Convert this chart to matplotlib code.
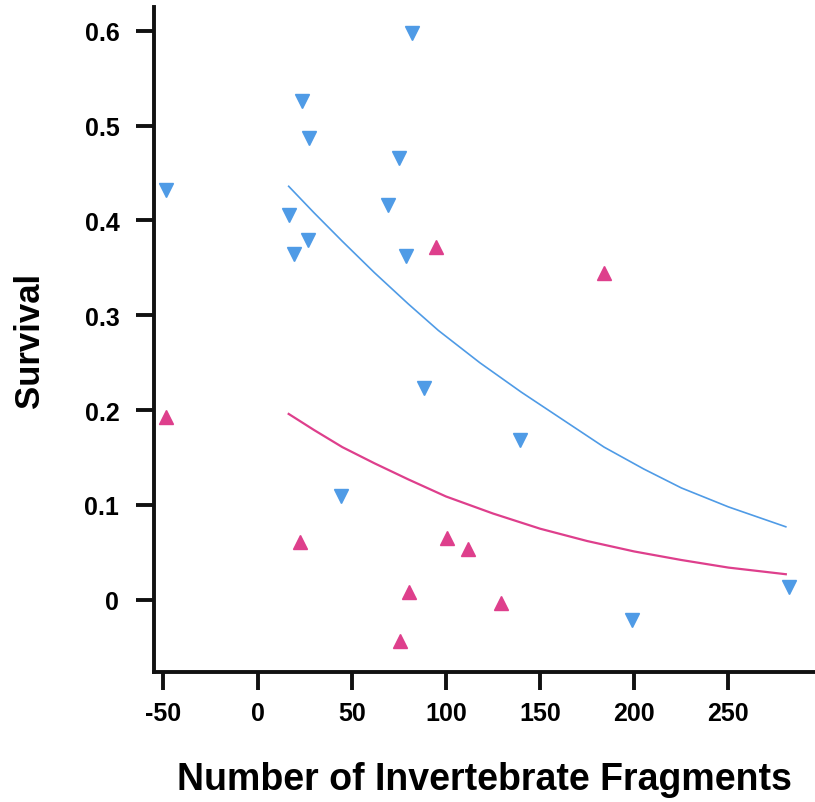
import matplotlib.pyplot as plt

plt.rcParams['font.family'] = ['Liberation Sans', 'DejaVu Sans']
plt.rcParams['axes.unicode_minus'] = False

# blue down-triangles (x = invertebrate fragments, y = survival)
blue_x = [-48.8, 82.2, 23.8, 27.2, 75, 69, 16.5, 26.6, 19.2, 78.7, 88.6, 139.6, 44.2, 199, 282]
blue_y = [0.432, 0.598, 0.526, 0.487, 0.466, 0.416, 0.406, 0.379, 0.365, 0.363, 0.223, 0.168, 0.109, -0.021, 0.014]

# pink up-triangles
pink_x = [-48.6, 95, 183.8, 22.3, 100.4, 111.5, 80.3, 129.4, 75.5]
pink_y = [0.193, 0.372, 0.345, 0.061, 0.065, 0.054, 0.008, -0.003, -0.043]

# fitted curves
blue_fit_x = [16.5, 30, 45, 62, 80, 96, 118, 140, 162, 184, 205, 225, 250, 280.5]
blue_fit_y = [0.436, 0.408, 0.378, 0.345, 0.312, 0.284, 0.250, 0.219, 0.190, 0.161, 0.138, 0.118, 0.098, 0.077]
pink_fit_x = [16.5, 30, 45, 62, 80, 100, 125, 150, 175, 200, 225, 250, 280.5]
pink_fit_y = [0.196, 0.179, 0.161, 0.144, 0.127, 0.109, 0.091, 0.075, 0.062, 0.051, 0.042, 0.034, 0.027]

x_ticks = [-50, 0, 50, 100, 150, 200, 250]
y_ticks = [0, 0.1, 0.2, 0.3, 0.4, 0.5, 0.6]
y_tick_labels = ['0', '0.1', '0.2', '0.3', '0.4', '0.5', '0.6']

blue = '#4f9be6'
pink = '#de3f8c'

fig = plt.figure(figsize=(8.15, 8.03), dpi=100)
ax = fig.add_axes([0.189, 0.162, 0.811, 0.828])

ax.plot(blue_fit_x, blue_fit_y, color=blue, lw=1.2)
ax.plot(pink_fit_x, pink_fit_y, color=pink, lw=1.6)
ax.plot(blue_x, blue_y, 'v', color=blue, markersize=10, linestyle='none')
ax.plot(pink_x, pink_y, '^', color=pink, markersize=10, linestyle='none')

ax.set_xlim(-55, 296)
ax.set_ylim(-0.076, 0.625)

ax.set_xticks(x_ticks)
ax.set_xticklabels([str(v) for v in x_ticks])
ax.set_yticks(y_ticks)
ax.set_yticklabels(y_tick_labels)

for s in ['top', 'right']:
  ax.spines[s].set_visible(False)
for s in ['left', 'bottom']:
  ax.spines[s].set_linewidth(2.8)
  ax.spines[s].set_color('#111111')

ax.tick_params(axis='both', length=13, width=2.8, color='#111111', labelsize=18)
ax.tick_params(axis='x', pad=8)
ax.tick_params(axis='y', pad=12)
for lab in ax.get_xticklabels() + ax.get_yticklabels():
  lab.set_fontweight('bold')

ax.set_xlabel('Number of Invertebrate Fragments', fontsize=27, fontweight='bold', labelpad=26)
ax.set_ylabel('Survival', fontsize=25, fontweight='bold', labelpad=28)

fig.savefig('out.png', dpi=100)
